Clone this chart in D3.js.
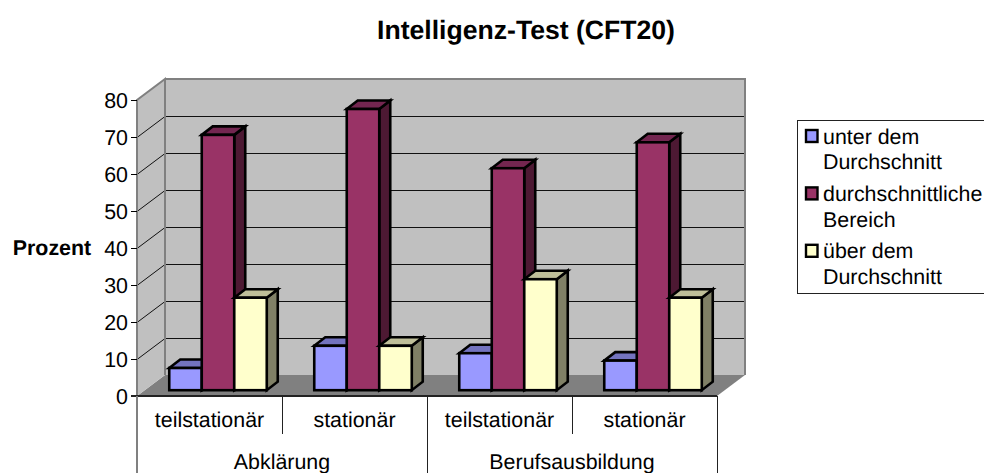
<!DOCTYPE html>
<html><head><meta charset="utf-8">
<script src="https://cdn.jsdelivr.net/npm/d3@7/dist/d3.min.js"></script>
<style>html,body{margin:0;padding:0;background:#fff;overflow:hidden}svg{display:block}text{font-family:"Liberation Sans",Arial,sans-serif;fill:#000;text-rendering:geometricPrecision}</style>
</head><body><svg id="c" width="984" height="473"></svg>
<script>
const title = "Intelligenz-Test (CFT20)";
const yLabel = "Prozent";
const groups = ["Abklärung", "Berufsausbildung"];
const categories = ["teilstationär", "stationär", "teilstationär", "stationär"];
const seriesNames = [["unter dem","Durchschnitt"],["durchschnittliche","Bereich"],["über dem","Durchschnitt"]];
const unter = [6, 12, 10, 8];
const durchschnitt = [69, 76, 60, 67];
const ueber = [25, 12, 30, 25];
const series = [unter, durchschnitt, ueber];
const fronts = ["#9999ff", "#993366", "#ffffcc"];
const tops = ["#7373bf", "#732650", "#bfbf99"];
const sides = ["#4d4d80", "#4d1933", "#808066"];
const yTicks = [0,10,20,30,40,50,60,70,80];

const svg = d3.select("#c");
const x0 = 137, x1 = 717, yB = 396, yT = 100, dX = 28, dY = -21;
const x = d3.scaleBand().domain(d3.range(categories.length)).range([x0, x1]);
const y = d3.scaleLinear().domain([0, 80]).range([yB, yT]);
const gx = d3.scaleLinear().domain([0, groups.length]).range([x0, x1]);
const poly = p => p.map(q => q.join(",")).join(" ");
const FS = 21.4;

// walls and floor
svg.append("polygon").attr("points", poly([[x0,yB],[x0+dX,yB+dY],[x1+dX,yB+dY],[x1,yB]])).attr("fill","#808080");
svg.append("polygon").attr("points", poly([[x0,yB],[x0,yT],[x0+dX,yT+dY],[x0+dX,yB+dY]])).attr("fill","#c0c0c0");
svg.append("rect").attr("x",x0+dX).attr("y",yT+dY).attr("width",x1-x0).attr("height",yB-yT).attr("fill","#c0c0c0");
// gridlines
yTicks.filter(v => v > 0 && v < 80).forEach(v => {
  svg.append("path").attr("d",`M${x0},${y(v)+.5}L${x0+dX},${y(v)+dY+.5}H${x1+dX}`).attr("fill","none").attr("stroke","#111").attr("stroke-width",1);
});
// wall borders
svg.append("path").attr("d",`M${x0},${yB}V${yT}L${x0+dX},${yT+dY}V${yB+dY}M${x0+dX},${yT+dY}H${x1+dX}V${yB+dY}`)
  .attr("fill","none").attr("stroke","#808080").attr("stroke-width",2);

// y axis
const axis = d3.axisLeft(y).tickValues(yTicks).tickSize(6).tickPadding(3).tickSizeOuter(0);
const ga = svg.append("g").attr("transform",`translate(${x0},0)`).call(axis);
ga.select(".domain").remove();
ga.selectAll("line").attr("stroke","#000");
ga.selectAll("text").attr("font-size",FS).attr("font-family","Liberation Sans").attr("dy","0.33em");
svg.append("text").attr("x",52).attr("y",255).attr("text-anchor","middle").attr("font-size",FS).attr("font-weight","bold").text(yLabel);

// bars
const barOY = -5.8, barW = 32.5, bdx = 11, bdy = -8.5;
categories.forEach((c, i) => {
  const cx = x(i) + x.bandwidth()/2 + 8.5;
  series.forEach((s, k) => {
    const l = cx - barW*1.5 + k*barW, r = l + barW;
    const b = y(0) + barOY, t = y(s[i]) + barOY;
    const g = svg.append("g").attr("stroke","#000").attr("stroke-width",2.6).attr("stroke-linejoin","miter");
    g.append("polygon").attr("points",poly([[r,b],[r,t],[r+bdx,t+bdy],[r+bdx,b+bdy]])).attr("fill",sides[k]);
    g.append("polygon").attr("points",poly([[l,t],[l+bdx,t+bdy],[r+bdx,t+bdy],[r,t]])).attr("fill",tops[k]);
    g.append("rect").attr("x",l).attr("y",t).attr("width",barW).attr("height",b-t).attr("fill",fronts[k]);
  });
});

// front axis line and multi-level category separators
svg.append("path").attr("d",`M${x0-6},${yB}H${x1}`).attr("stroke","#222").attr("stroke-width",2);
svg.append("path").attr("d",`M${x0},${yB}V473`).attr("stroke","#808080").attr("stroke-width",2);
[1,2].forEach(g => svg.append("path").attr("d",`M${gx(g)+.5},${yB}V473`).attr("stroke","#222").attr("stroke-width",1));
[1,3].forEach(i => svg.append("path").attr("d",`M${x(i)+.5},${yB}V434`).attr("stroke","#222").attr("stroke-width",1));
categories.forEach((c,i) => svg.append("text").attr("x",x(i)+x.bandwidth()/2).attr("y",427).attr("text-anchor","middle").attr("font-size",FS).text(c));
groups.forEach((g,i) => svg.append("text").attr("x",(gx(i)+gx(i+1))/2).attr("y",469).attr("text-anchor","middle").attr("font-size",FS).text(g));

// title
svg.append("text").attr("x",526).attr("y",39).attr("text-anchor","middle").attr("font-size",26.6).attr("font-weight","bold").text(title);

// legend
svg.append("rect").attr("x",797.5).attr("y",120.5).attr("width",200).attr("height",173).attr("fill","#fff").attr("stroke","#222");
seriesNames.forEach((n,k) => {
  const yy = 136 + k*57.4;
  svg.append("rect").attr("x",806).attr("y",yy-6).attr("width",11.5).attr("height",12).attr("fill",fronts[k]).attr("stroke","#000").attr("stroke-width",2.4);
  n.forEach((line,j) => svg.append("text").attr("x",823).attr("y",yy+7.5+j*25.7).attr("font-size",FS).text(line));
});
</script></body></html>
